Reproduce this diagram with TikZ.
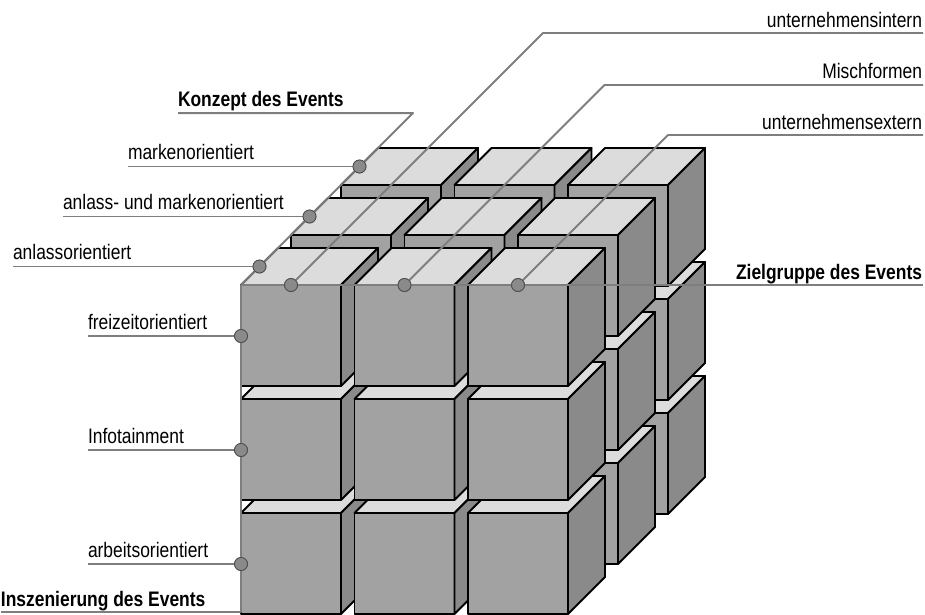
\documentclass[tikz,border=0pt]{standalone}
\usepackage{fontspec}
\setmainfont{Liberation Sans}[FakeStretch=0.83]
\definecolor{cfront}{HTML}{A2A2A2}
\definecolor{cside}{HTML}{8A8A8A}
\definecolor{ctop}{HTML}{DCDCDC}
\definecolor{cline}{HTML}{7E7E7E}
\definecolor{cdot}{HTML}{8A8A8A}
\begin{document}
\begin{tikzpicture}[x=1pt,y=-1pt,
  face/.style={draw=black,line width=1.9pt,line join=round},
  frontface/.style={face,fill=cfront},
  topface/.style={face,fill=ctop},
  sideface/.style={face,fill=cside},
  axisline/.style={draw=cline,line width=2pt,line join=round},
  leader/.style={draw=cline,line width=1.8pt,line join=round},
  dotmark/.style={circle,fill=cdot,draw=cline!60!black,line width=0.8pt,inner sep=0pt,minimum size=13pt},
  lbl/.style={inner sep=0pt,outer sep=0pt,font=\fontsize{21}{25}\selectfont},
  lblb/.style={inner sep=0pt,outer sep=0pt,font=\fontsize{21}{25}\selectfont\bfseries}]
\useasboundingbox (0,0) rectangle (925,614);
% cube of 27 blocks (back to front, bottom to top, left to right)
\foreach \k in {2,1,0}{
 \foreach \r in {2,1,0}{
  \foreach \c in {0,1,2}{
   \pgfmathsetmacro{\xx}{241+113.5*\c+50*\k}
   \pgfmathsetmacro{\yy}{285+114*\r-50*\k}
   \path[frontface] (\xx,\yy) rectangle ++(100,101);
   \path[topface] (\xx,\yy) -- ++(100,0) -- ++(37,-37) -- ++(-100,0) -- cycle;
   \path[sideface] (\xx+100,\yy) -- ++(37,-37) -- ++(0,101) -- ++(-37,37) -- cycle;
  }}}
% labels
\node[lblb,anchor=base west] (konzept) at (178,106) {Konzept des Events};
\node[lbl,anchor=base west] (marken) at (128,159.5) {markenorientiert};
\node[lbl,anchor=base west] (anlmark) at (63,209.5) {anlass- und markenorientiert};
\node[lbl,anchor=base west] (anlass) at (13,259.5) {anlassorientiert};
\node[lbl,anchor=base west] (freizeit) at (88,329) {freizeitorientiert};
\node[lbl,anchor=base west] (info) at (88,443) {Infotainment};
\node[lbl,anchor=base west] (arbeit) at (88,557) {arbeitsorientiert};
\node[lblb,anchor=base west] (insz) at (1,606) {Inszenierung des Events};
\node[lbl,anchor=base east] (uint) at (922,27) {unternehmensintern};
\node[lbl,anchor=base east] (misch) at (922,78) {Mischformen};
\node[lbl,anchor=base east] (uext) at (922,129) {unternehmensextern};
\node[lblb,anchor=base east] (ziel) at (922,279) {Zielgruppe des Events};
% axis points
\coordinate (O) at (241,285);
\coordinate (kb) at (413,113);
\coordinate (ib) at (241,612);
\coordinate (b0) at (543,33);
\coordinate (b1) at (604.5,85);
\coordinate (b2) at (668,135);
% dots
\node[dotmark] (z0) at (259.5,266.5) {};
\node[dotmark] (z1) at (309.5,216.5) {};
\node[dotmark] (z2) at (359.5,166.5) {};
\node[dotmark] (y0) at (241,336) {};
\node[dotmark] (y1) at (241,450) {};
\node[dotmark] (y2) at (241,564) {};
\node[dotmark] (t0) at (291,285) {};
\node[dotmark] (t1) at (404.5,285) {};
\node[dotmark] (t2) at (518,285) {};
% axes and leaders
\draw[axisline] (O) -- (kb) -- (kb -| konzept.west);
\draw[axisline] (O) -- ([xshift=1pt]O -| ziel.east);
\draw[axisline] (O) -- (ib) -- (ib -| insz.west);
\draw[leader] (z0.center) -- (z0 -| anlass.west);
\draw[leader] (z1.center) -- (z1 -| anlmark.west);
\draw[leader] (z2.center) -- (z2 -| marken.west);
\draw[leader] (y0.center) -- (y0 -| freizeit.west);
\draw[leader] (y1.center) -- (y1 -| info.west);
\draw[leader] (y2.center) -- (y2 -| arbeit.west);
\draw[leader] (t0.center) -- (b0) -- ([xshift=1pt]b0 -| uint.east);
\draw[leader] (t1.center) -- (b1) -- ([xshift=1pt]b1 -| misch.east);
\draw[leader] (t2.center) -- (b2) -- ([xshift=1pt]b2 -| uext.east);
% redraw dots above the lines
\foreach \d in {z0,z1,z2,y0,y1,y2,t0,t1,t2}{\node[dotmark] at (\d) {};}
\end{tikzpicture}
\end{document}
